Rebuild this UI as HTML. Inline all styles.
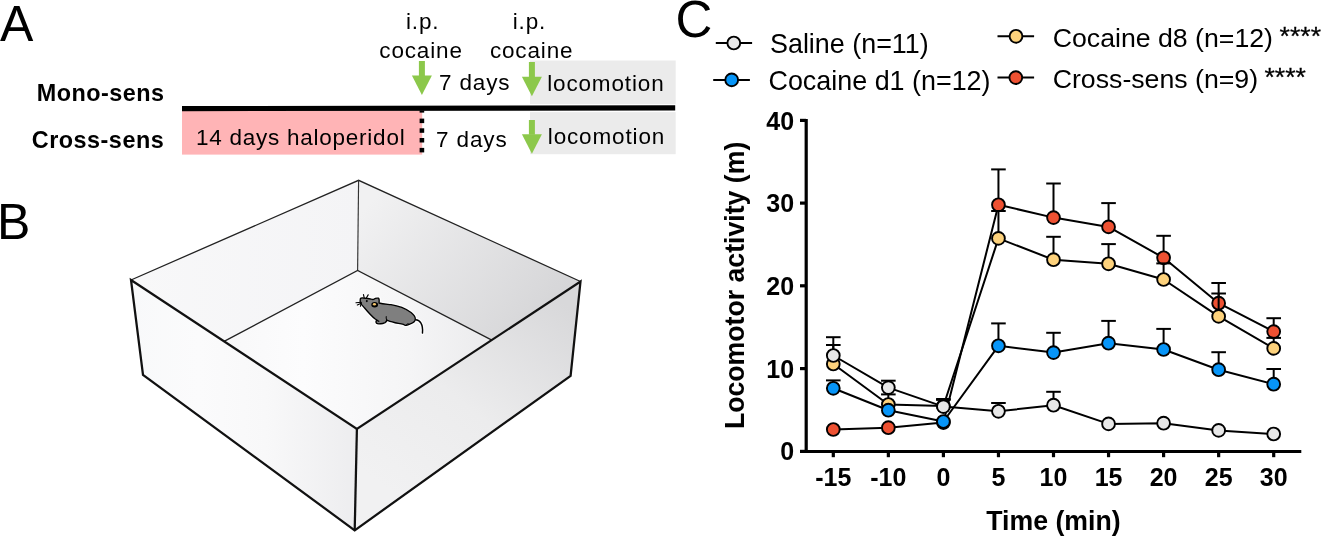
<!DOCTYPE html>
<html><head><meta charset="utf-8"><title>Figure</title>
<style>
html,body{margin:0;padding:0;background:#fff;}
body{width:1321px;height:536px;overflow:hidden;}
svg{display:block;}
.r{font-family:'Liberation Sans', Arial, Helvetica, sans-serif;font-weight:400;fill:#000;}
.b{font-family:'Liberation Sans', Arial, Helvetica, sans-serif;font-weight:700;fill:#000;}
.ls{letter-spacing:0.85px;}
</style></head>
<body>
<svg width="1321" height="536" viewBox="0 0 1321 536">
<rect width="1321" height="536" fill="#fff"/>
<text x="0" y="41" font-size="50" class="r">A</text>
<text x="406" y="29" font-size="22.5" class="r ls">i.p.</text>
<text x="379.3" y="58.3" font-size="22.5" class="r ls">cocaine</text>
<text x="512.7" y="29" font-size="22.5" class="r ls">i.p.</text>
<text x="489.9" y="58.2" font-size="22.5" class="r ls">cocaine</text>
<rect x="530" y="60.5" width="145.7" height="43.6" fill="#ebebeb"/>
<rect x="530" y="112.1" width="145.7" height="42.1" fill="#ebebeb"/>
<rect x="182" y="110.5" width="240.2" height="44.1" fill="#ffb4b6"/>
<polygon points="182,106.0 675.2,105.3 675.2,110.55 182,111.2" fill="#000"/>
<rect x="419.6" y="110.5" width="4.6" height="2.1" fill="#000"/>
<rect x="419.6" y="118.6" width="4.6" height="4.5" fill="#000"/>
<rect x="419.6" y="128.3" width="4.6" height="4.5" fill="#000"/>
<rect x="419.6" y="138.0" width="4.6" height="4.5" fill="#000"/>
<rect x="419.6" y="147.9" width="4.6" height="4.5" fill="#000"/>
<rect x="418.90" y="61.00" width="6" height="15.10" fill="#8cc84b"/><polygon points="411.90,75.60 431.90,75.60 421.90,95.10" fill="#8cc84b"/>
<rect x="528.90" y="62.00" width="6" height="15.20" fill="#8cc84b"/><polygon points="521.90,76.70 541.90,76.70 531.90,96.20" fill="#8cc84b"/>
<rect x="528.90" y="120.00" width="6" height="14.70" fill="#8cc84b"/><polygon points="521.90,134.20 541.90,134.20 531.90,153.80" fill="#8cc84b"/>
<text x="439" y="90.2" font-size="22.5" class="r ls">7 days</text>
<text x="436.1" y="147" font-size="22.5" class="r ls">7 days</text>
<text x="547.2" y="91" font-size="22.5" class="r ls">locomotion</text>
<text x="547.8" y="144" font-size="22.5" class="r ls">locomotion</text>
<text x="196" y="145" font-size="22.5" class="r" letter-spacing="0.75">14 days haloperidol</text>
<text x="164.6" y="101.1" font-size="23.4" class="b" letter-spacing="0.5" text-anchor="end">Mono-sens</text>
<text x="164.2" y="147.5" font-size="23.4" class="b" letter-spacing="0.5" text-anchor="end">Cross-sens</text>
<text x="-3" y="239" font-size="50" class="r">B</text>
<defs>
<linearGradient id="gFL" x1="131" y1="0" x2="356" y2="0" gradientUnits="userSpaceOnUse"><stop offset="0" stop-color="#f8f9fa"/><stop offset="0.3" stop-color="#fbfbfc"/><stop offset="0.6" stop-color="#f8f8f9"/><stop offset="1" stop-color="#ededef"/></linearGradient>
<linearGradient id="gFR" x1="400" y1="500" x2="560" y2="300" gradientUnits="userSpaceOnUse"><stop offset="0" stop-color="#f1f1f2"/><stop offset="0.45" stop-color="#ececed"/><stop offset="1" stop-color="#d8d8da"/></linearGradient>
<linearGradient id="gBR" x1="380" y1="190" x2="540" y2="320" gradientUnits="userSpaceOnUse"><stop offset="0" stop-color="#f1f1f2"/><stop offset="1" stop-color="#d6d6d8"/></linearGradient>
<linearGradient id="gBL" x1="131" y1="0" x2="358" y2="0" gradientUnits="userSpaceOnUse"><stop offset="0" stop-color="#f8f8f9"/><stop offset="1" stop-color="#f4f4f6"/></linearGradient>
<linearGradient id="gFloor" x1="223" y1="0" x2="490" y2="0" gradientUnits="userSpaceOnUse"><stop offset="0" stop-color="#f8f8f9"/><stop offset="0.3" stop-color="#fcfcfd"/><stop offset="0.7" stop-color="#f5f5f6"/><stop offset="1" stop-color="#ebebed"/></linearGradient>
</defs>
<polygon points="131,280 358.6,180.3 357.6,270.4 224.1,341.4" fill="url(#gBL)" />
<polygon points="358.6,180.3 580.5,281.5 491.8,340.1 357.6,270.4" fill="url(#gBR)" />
<polygon points="357.6,270.4 491.8,340.1 356.9,429.0 224.1,341.4" fill="url(#gFloor)" />
<polygon points="131,280 356.9,429.0 354.7,530.3 143,375" fill="url(#gFL)" />
<polygon points="356.9,429.0 580.5,281.5 570.6,375.9 354.7,530.3" fill="url(#gFR)" />
<polyline points="131,280 358.6,180.3 580.5,281.5" fill="none" stroke="#222" stroke-width="1.3"/>
<line x1="358.6" y1="180.3" x2="357.6" y2="270.4" stroke="#333" stroke-width="1.15"/>
<polyline points="224.1,341.4 357.6,270.4 491.8,340.1" fill="none" stroke="#222" stroke-width="1.3"/>
<polygon points="131,280 356.9,429.0 580.5,281.5 570.6,375.9 354.7,530.3 143,375" fill="none" stroke="#111" stroke-width="2.25" stroke-linejoin="miter"/>
<line x1="356.9" y1="429.0" x2="354.7" y2="530.3" stroke="#111" stroke-width="2.25"/>
<g transform="translate(345 285) scale(0.11194)">
<g fill="none" stroke="#fff" stroke-width="34" stroke-linecap="round" stroke-linejoin="round" opacity="0.9">
<path d="M632,310 C665,312 700,345 692,430"/>
<path id="mbody" d="M137,122 C140,115 152,114 165,116 C190,117 215,120 235,127 C245,130 252,132 258,127 C266,120 285,116 300,118 C308,126 306,146 304,161 C340,170 380,172 411,176 C470,185 540,210 590,245 C615,265 630,290 628,307 C626,325 610,338 583,348 C565,355 555,360 545,360 C535,362 528,356 523,352 C490,345 460,340 448,337 C420,330 390,322 373,314 C372,325 365,332 358,336 C345,342 330,346 320,346 C305,348 290,350 282,342 C274,334 276,322 283,316 C290,320 296,324 302,324 C292,318 280,311 270,304 C240,280 200,235 175,205 C160,188 142,172 138,160 C135,150 135,135 137,122 Z"/>
</g>
<path d="M632,310 C665,312 700,345 692,430" fill="none" stroke="#000" stroke-width="13" stroke-linecap="round"/>
<path d="M137,122 C140,115 152,114 165,116 C190,117 215,120 235,127 C245,130 252,132 258,127 C266,120 285,116 300,118 C308,126 306,146 304,161 C340,170 380,172 411,176 C470,185 540,210 590,245 C615,265 630,290 628,307 C626,325 610,338 583,348 C565,355 555,360 545,360 C535,362 528,356 523,352 C490,345 460,340 448,337 C420,330 390,322 373,314 C372,325 365,332 358,336 C345,342 330,346 320,346 C305,348 290,350 282,342 C274,334 276,322 283,316 C290,320 296,324 302,324 C292,318 280,311 270,304 C240,280 200,235 175,205 C160,188 142,172 138,160 C135,150 135,135 137,122 Z" fill="#7f7f7f" stroke="#000" stroke-width="12" stroke-linejoin="round"/>
<path d="M373,314 C368,300 366,292 368,282" fill="none" stroke="#000" stroke-width="9" stroke-linecap="round"/>
<path d="M545,360 C548,350 556,345 566,346" fill="none" stroke="#000" stroke-width="8" stroke-linecap="round"/>
<ellipse cx="265" cy="176" rx="30" ry="24" fill="#000"/>
<ellipse cx="263" cy="172" rx="14" ry="12" fill="#f2c36b"/>
<circle cx="195" cy="144" r="9" fill="#000"/>
<g stroke="#000" stroke-width="10" stroke-linecap="round" fill="none">
<path d="M145,154 L98,158"/><path d="M145,162 L110,178"/><path d="M145,160 L138,190"/>
<path d="M172,116 L165,86"/><path d="M192,114 L207,88"/>
</g>
</g>
<text x="675.6" y="36.9" font-size="51" class="r">C</text>
<line x1="715.8" y1="43" x2="752.1" y2="43" stroke="#000" stroke-width="2"/><circle cx="733.8" cy="43" r="6.4" fill="#e8e8e8" stroke="#000" stroke-width="1.9"/>
<line x1="713.2" y1="79.9" x2="749.9" y2="79.9" stroke="#000" stroke-width="2"/><circle cx="731.7" cy="79.9" r="6.4" fill="#0795f8" stroke="#000" stroke-width="1.9"/>
<line x1="997.5" y1="36.3" x2="1034.1" y2="36.3" stroke="#000" stroke-width="2"/><circle cx="1016" cy="36.3" r="6.4" fill="#fdd27c" stroke="#000" stroke-width="1.9"/>
<line x1="997.5" y1="77.6" x2="1034.1" y2="77.6" stroke="#000" stroke-width="2"/><circle cx="1015.8" cy="77.6" r="6.4" fill="#ee5132" stroke="#000" stroke-width="1.9"/>
<text x="770" y="53.3" font-size="26.9" class="r">Saline (n=11)</text>
<text x="768.5" y="89.8" font-size="26.9" class="r">Cocaine d1 (n=12)</text>
<text x="1052.7" y="46.9" font-size="26.7" class="r">Cocaine d8 (n=12)</text><text x="1279.6" y="44.5" font-size="26.6" class="r" stroke="#000" stroke-width="0.3">****</text>
<text x="1052.7" y="88.4" font-size="26.7" class="r">Cross-sens (n=9)</text><text x="1264.5" y="86.0" font-size="26.6" class="r" stroke="#000" stroke-width="0.3">****</text>
<line x1="806.2" y1="119" x2="806.2" y2="453" stroke="#000" stroke-width="3.2"/>
<line x1="800" y1="451.5" x2="1301.3" y2="451.5" stroke="#000" stroke-width="3.2"/>
<line x1="800" y1="451.4" x2="806" y2="451.4" stroke="#000" stroke-width="3.2"/>
<text x="794.1" y="460.4" font-size="25" class="b" text-anchor="end">0</text>
<line x1="800" y1="368.6" x2="806" y2="368.6" stroke="#000" stroke-width="3.2"/>
<text x="794.1" y="377.6" font-size="25" class="b" text-anchor="end">10</text>
<line x1="800" y1="285.8" x2="806" y2="285.8" stroke="#000" stroke-width="3.2"/>
<text x="794.1" y="294.8" font-size="25" class="b" text-anchor="end">20</text>
<line x1="800" y1="203.1" x2="806" y2="203.1" stroke="#000" stroke-width="3.2"/>
<text x="794.1" y="212.1" font-size="25" class="b" text-anchor="end">30</text>
<line x1="800" y1="120.4" x2="806" y2="120.4" stroke="#000" stroke-width="3.2"/>
<text x="794.1" y="130.2" font-size="25" class="b" text-anchor="end">40</text>
<line x1="833.30" y1="451" x2="833.30" y2="457.2" stroke="#000" stroke-width="3.2"/>
<text x="833.30" y="486.2" font-size="25" class="b" text-anchor="middle">-15</text>
<line x1="888.35" y1="451" x2="888.35" y2="457.2" stroke="#000" stroke-width="3.2"/>
<text x="888.35" y="486.2" font-size="25" class="b" text-anchor="middle">-10</text>
<line x1="943.40" y1="451" x2="943.40" y2="457.2" stroke="#000" stroke-width="3.2"/>
<text x="943.40" y="486.2" font-size="25" class="b" text-anchor="middle">0</text>
<line x1="998.45" y1="451" x2="998.45" y2="457.2" stroke="#000" stroke-width="3.2"/>
<text x="998.45" y="486.2" font-size="25" class="b" text-anchor="middle">5</text>
<line x1="1053.50" y1="451" x2="1053.50" y2="457.2" stroke="#000" stroke-width="3.2"/>
<text x="1053.50" y="486.2" font-size="25" class="b" text-anchor="middle">10</text>
<line x1="1108.55" y1="451" x2="1108.55" y2="457.2" stroke="#000" stroke-width="3.2"/>
<text x="1108.55" y="486.2" font-size="25" class="b" text-anchor="middle">15</text>
<line x1="1163.60" y1="451" x2="1163.60" y2="457.2" stroke="#000" stroke-width="3.2"/>
<text x="1163.60" y="486.2" font-size="25" class="b" text-anchor="middle">20</text>
<line x1="1218.65" y1="451" x2="1218.65" y2="457.2" stroke="#000" stroke-width="3.2"/>
<text x="1218.65" y="486.2" font-size="25" class="b" text-anchor="middle">25</text>
<line x1="1273.70" y1="451" x2="1273.70" y2="457.2" stroke="#000" stroke-width="3.2"/>
<text x="1273.70" y="486.2" font-size="25" class="b" text-anchor="middle">30</text>
<text transform="translate(1053.4 529.7) scale(0.953 1)" x="0" y="0" font-size="28" class="b" text-anchor="middle">Time (min)</text>
<text transform="translate(743.6 285.4) rotate(-90) scale(0.953 1)" x="0" y="0" font-size="28" class="b" text-anchor="middle">Locomotor activity (m)</text>
<line x1="998.45" y1="204.80" x2="998.45" y2="169.40" stroke="#000" stroke-width="2"/>
<line x1="991.15" y1="169.40" x2="1005.75" y2="169.40" stroke="#000" stroke-width="2"/>
<line x1="1053.50" y1="217.60" x2="1053.50" y2="183.50" stroke="#000" stroke-width="2"/>
<line x1="1046.20" y1="183.50" x2="1060.80" y2="183.50" stroke="#000" stroke-width="2"/>
<line x1="1108.55" y1="226.90" x2="1108.55" y2="203.10" stroke="#000" stroke-width="2"/>
<line x1="1101.25" y1="203.10" x2="1115.85" y2="203.10" stroke="#000" stroke-width="2"/>
<line x1="1163.60" y1="257.80" x2="1163.60" y2="235.80" stroke="#000" stroke-width="2"/>
<line x1="1156.30" y1="235.80" x2="1170.90" y2="235.80" stroke="#000" stroke-width="2"/>
<line x1="1218.65" y1="303.20" x2="1218.65" y2="283.00" stroke="#000" stroke-width="2"/>
<line x1="1211.35" y1="283.00" x2="1225.95" y2="283.00" stroke="#000" stroke-width="2"/>
<line x1="1273.70" y1="331.60" x2="1273.70" y2="318.20" stroke="#000" stroke-width="2"/>
<line x1="1266.40" y1="318.20" x2="1281.00" y2="318.20" stroke="#000" stroke-width="2"/>
<polyline points="833.30,429.50 888.35,427.70 943.40,422.60 998.45,204.80 1053.50,217.60 1108.55,226.90 1163.60,257.80 1218.65,303.20 1273.70,331.60" fill="none" stroke="#000" stroke-width="2" stroke-linejoin="round"/>
<circle cx="833.30" cy="429.50" r="6.4" fill="#ee5132" stroke="#000" stroke-width="1.9"/>
<circle cx="888.35" cy="427.70" r="6.4" fill="#ee5132" stroke="#000" stroke-width="1.9"/>
<circle cx="943.40" cy="422.60" r="6.4" fill="#ee5132" stroke="#000" stroke-width="1.9"/>
<circle cx="998.45" cy="204.80" r="6.4" fill="#ee5132" stroke="#000" stroke-width="1.9"/>
<circle cx="1053.50" cy="217.60" r="6.4" fill="#ee5132" stroke="#000" stroke-width="1.9"/>
<circle cx="1108.55" cy="226.90" r="6.4" fill="#ee5132" stroke="#000" stroke-width="1.9"/>
<circle cx="1163.60" cy="257.80" r="6.4" fill="#ee5132" stroke="#000" stroke-width="1.9"/>
<circle cx="1218.65" cy="303.20" r="6.4" fill="#ee5132" stroke="#000" stroke-width="1.9"/>
<circle cx="1273.70" cy="331.60" r="6.4" fill="#ee5132" stroke="#000" stroke-width="1.9"/>
<line x1="833.30" y1="364.00" x2="833.30" y2="345.00" stroke="#000" stroke-width="2"/>
<line x1="826.00" y1="345.00" x2="840.60" y2="345.00" stroke="#000" stroke-width="2"/>
<line x1="888.35" y1="404.50" x2="888.35" y2="394.40" stroke="#000" stroke-width="2"/>
<line x1="881.05" y1="394.40" x2="895.65" y2="394.40" stroke="#000" stroke-width="2"/>
<line x1="943.40" y1="406.00" x2="943.40" y2="399.90" stroke="#000" stroke-width="2"/>
<line x1="936.10" y1="399.90" x2="950.70" y2="399.90" stroke="#000" stroke-width="2"/>
<line x1="998.45" y1="238.40" x2="998.45" y2="211.00" stroke="#000" stroke-width="2"/>
<line x1="991.15" y1="211.00" x2="1005.75" y2="211.00" stroke="#000" stroke-width="2"/>
<line x1="1053.50" y1="259.70" x2="1053.50" y2="236.80" stroke="#000" stroke-width="2"/>
<line x1="1046.20" y1="236.80" x2="1060.80" y2="236.80" stroke="#000" stroke-width="2"/>
<line x1="1108.55" y1="263.80" x2="1108.55" y2="244.10" stroke="#000" stroke-width="2"/>
<line x1="1101.25" y1="244.10" x2="1115.85" y2="244.10" stroke="#000" stroke-width="2"/>
<line x1="1163.60" y1="279.50" x2="1163.60" y2="263.40" stroke="#000" stroke-width="2"/>
<line x1="1156.30" y1="263.40" x2="1170.90" y2="263.40" stroke="#000" stroke-width="2"/>
<line x1="1218.65" y1="316.40" x2="1218.65" y2="293.50" stroke="#000" stroke-width="2"/>
<line x1="1211.35" y1="293.50" x2="1225.95" y2="293.50" stroke="#000" stroke-width="2"/>
<line x1="1273.70" y1="348.40" x2="1273.70" y2="337.90" stroke="#000" stroke-width="2"/>
<line x1="1266.40" y1="337.90" x2="1281.00" y2="337.90" stroke="#000" stroke-width="2"/>
<polyline points="833.30,364.00 888.35,404.50 943.40,406.00 998.45,238.40 1053.50,259.70 1108.55,263.80 1163.60,279.50 1218.65,316.40 1273.70,348.40" fill="none" stroke="#000" stroke-width="2" stroke-linejoin="round"/>
<circle cx="833.30" cy="364.00" r="6.4" fill="#fdd27c" stroke="#000" stroke-width="1.9"/>
<circle cx="888.35" cy="404.50" r="6.4" fill="#fdd27c" stroke="#000" stroke-width="1.9"/>
<circle cx="943.40" cy="406.00" r="6.4" fill="#fdd27c" stroke="#000" stroke-width="1.9"/>
<circle cx="998.45" cy="238.40" r="6.4" fill="#fdd27c" stroke="#000" stroke-width="1.9"/>
<circle cx="1053.50" cy="259.70" r="6.4" fill="#fdd27c" stroke="#000" stroke-width="1.9"/>
<circle cx="1108.55" cy="263.80" r="6.4" fill="#fdd27c" stroke="#000" stroke-width="1.9"/>
<circle cx="1163.60" cy="279.50" r="6.4" fill="#fdd27c" stroke="#000" stroke-width="1.9"/>
<circle cx="1218.65" cy="316.40" r="6.4" fill="#fdd27c" stroke="#000" stroke-width="1.9"/>
<circle cx="1273.70" cy="348.40" r="6.4" fill="#fdd27c" stroke="#000" stroke-width="1.9"/>
<line x1="833.30" y1="388.30" x2="833.30" y2="380.40" stroke="#000" stroke-width="2"/>
<line x1="826.00" y1="380.40" x2="840.60" y2="380.40" stroke="#000" stroke-width="2"/>
<line x1="998.45" y1="345.80" x2="998.45" y2="323.40" stroke="#000" stroke-width="2"/>
<line x1="991.15" y1="323.40" x2="1005.75" y2="323.40" stroke="#000" stroke-width="2"/>
<line x1="1053.50" y1="352.60" x2="1053.50" y2="332.80" stroke="#000" stroke-width="2"/>
<line x1="1046.20" y1="332.80" x2="1060.80" y2="332.80" stroke="#000" stroke-width="2"/>
<line x1="1108.55" y1="343.20" x2="1108.55" y2="320.90" stroke="#000" stroke-width="2"/>
<line x1="1101.25" y1="320.90" x2="1115.85" y2="320.90" stroke="#000" stroke-width="2"/>
<line x1="1163.60" y1="349.50" x2="1163.60" y2="328.90" stroke="#000" stroke-width="2"/>
<line x1="1156.30" y1="328.90" x2="1170.90" y2="328.90" stroke="#000" stroke-width="2"/>
<line x1="1218.65" y1="369.70" x2="1218.65" y2="352.20" stroke="#000" stroke-width="2"/>
<line x1="1211.35" y1="352.20" x2="1225.95" y2="352.20" stroke="#000" stroke-width="2"/>
<line x1="1273.70" y1="384.20" x2="1273.70" y2="369.00" stroke="#000" stroke-width="2"/>
<line x1="1266.40" y1="369.00" x2="1281.00" y2="369.00" stroke="#000" stroke-width="2"/>
<polyline points="833.30,388.30 888.35,410.20 943.40,421.50 998.45,345.80 1053.50,352.60 1108.55,343.20 1163.60,349.50 1218.65,369.70 1273.70,384.20" fill="none" stroke="#000" stroke-width="2" stroke-linejoin="round"/>
<circle cx="833.30" cy="388.30" r="6.4" fill="#0795f8" stroke="#000" stroke-width="1.9"/>
<circle cx="888.35" cy="410.20" r="6.4" fill="#0795f8" stroke="#000" stroke-width="1.9"/>
<circle cx="943.40" cy="421.50" r="6.4" fill="#0795f8" stroke="#000" stroke-width="1.9"/>
<circle cx="998.45" cy="345.80" r="6.4" fill="#0795f8" stroke="#000" stroke-width="1.9"/>
<circle cx="1053.50" cy="352.60" r="6.4" fill="#0795f8" stroke="#000" stroke-width="1.9"/>
<circle cx="1108.55" cy="343.20" r="6.4" fill="#0795f8" stroke="#000" stroke-width="1.9"/>
<circle cx="1163.60" cy="349.50" r="6.4" fill="#0795f8" stroke="#000" stroke-width="1.9"/>
<circle cx="1218.65" cy="369.70" r="6.4" fill="#0795f8" stroke="#000" stroke-width="1.9"/>
<circle cx="1273.70" cy="384.20" r="6.4" fill="#0795f8" stroke="#000" stroke-width="1.9"/>
<line x1="833.30" y1="355.50" x2="833.30" y2="337.20" stroke="#000" stroke-width="2"/>
<line x1="826.00" y1="337.20" x2="840.60" y2="337.20" stroke="#000" stroke-width="2"/>
<line x1="888.35" y1="387.60" x2="888.35" y2="380.70" stroke="#000" stroke-width="2"/>
<line x1="881.05" y1="380.70" x2="895.65" y2="380.70" stroke="#000" stroke-width="2"/>
<line x1="943.40" y1="406.60" x2="943.40" y2="399.00" stroke="#000" stroke-width="2"/>
<line x1="936.10" y1="399.00" x2="950.70" y2="399.00" stroke="#000" stroke-width="2"/>
<line x1="998.45" y1="411.30" x2="998.45" y2="403.00" stroke="#000" stroke-width="2"/>
<line x1="991.15" y1="403.00" x2="1005.75" y2="403.00" stroke="#000" stroke-width="2"/>
<line x1="1053.50" y1="405.20" x2="1053.50" y2="391.80" stroke="#000" stroke-width="2"/>
<line x1="1046.20" y1="391.80" x2="1060.80" y2="391.80" stroke="#000" stroke-width="2"/>
<polyline points="833.30,355.50 888.35,387.60 943.40,406.60 998.45,411.30 1053.50,405.20 1108.55,423.90 1163.60,423.20 1218.65,430.40 1273.70,434.00" fill="none" stroke="#000" stroke-width="2" stroke-linejoin="round"/>
<circle cx="833.30" cy="355.50" r="6.4" fill="#e8e8e8" stroke="#000" stroke-width="1.9"/>
<circle cx="888.35" cy="387.60" r="6.4" fill="#e8e8e8" stroke="#000" stroke-width="1.9"/>
<circle cx="943.40" cy="406.60" r="6.4" fill="#e8e8e8" stroke="#000" stroke-width="1.9"/>
<circle cx="998.45" cy="411.30" r="6.4" fill="#e8e8e8" stroke="#000" stroke-width="1.9"/>
<circle cx="1053.50" cy="405.20" r="6.4" fill="#e8e8e8" stroke="#000" stroke-width="1.9"/>
<circle cx="1108.55" cy="423.90" r="6.4" fill="#e8e8e8" stroke="#000" stroke-width="1.9"/>
<circle cx="1163.60" cy="423.20" r="6.4" fill="#e8e8e8" stroke="#000" stroke-width="1.9"/>
<circle cx="1218.65" cy="430.40" r="6.4" fill="#e8e8e8" stroke="#000" stroke-width="1.9"/>
<circle cx="1273.70" cy="434.00" r="6.4" fill="#e8e8e8" stroke="#000" stroke-width="1.9"/>
</svg>
</body></html>
